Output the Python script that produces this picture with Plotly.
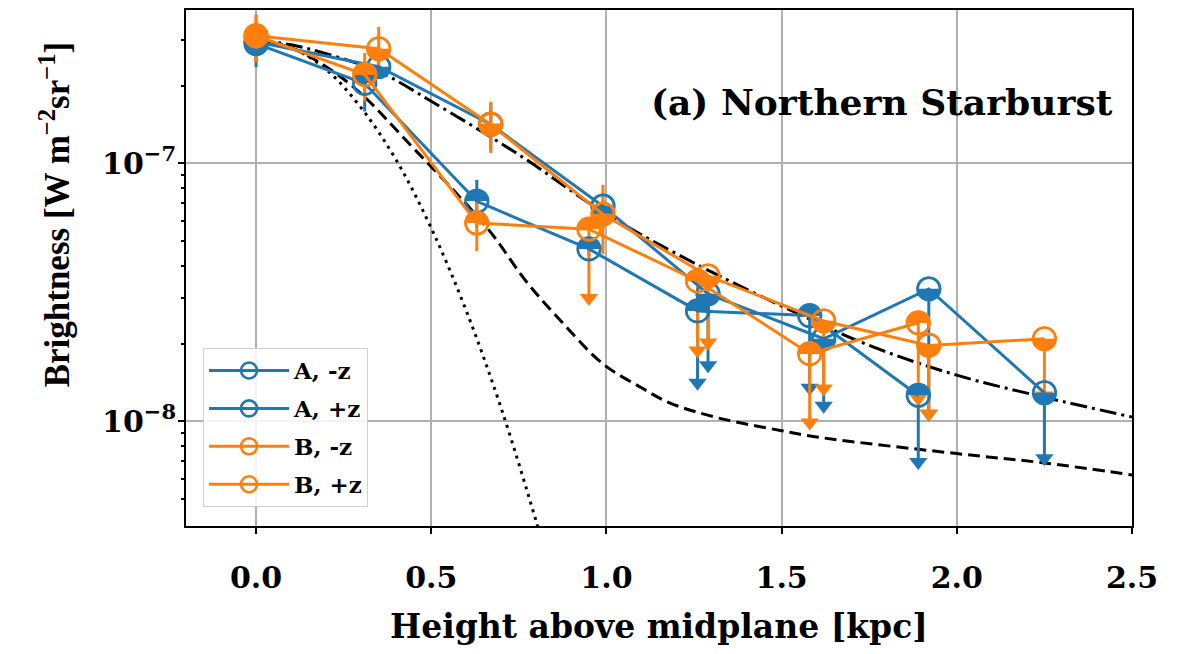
import plotly.graph_objects as go

# ---------------- data ----------------
# A, -z  (blue)
x_A_mz = [0.0, 0.31, 0.63, 0.95, 1.26, 1.58, 1.89]
y_A_mz = [2.91e-7, 2.04e-7, 7.13e-8, 4.66e-8, 2.68e-8, 2.57e-8, 1.26e-8]
err_A_mz = [0.55e-7, 0.45e-7, 1.5e-8, 0.3e-8, 0, 0, 0]
lim_A_mz = [None, None, None, None, 1.41e-8, 1.35e-8, 6.95e-9]

# A, +z  (blue)
x_A_pz = [0.0, 0.35, 0.67, 0.99, 1.29, 1.62, 1.92, 2.25]
y_A_pz = [2.96e-7, 2.37e-7, 1.415e-7, 6.82e-8, 3.12e-8, 2.09e-8, 3.26e-8, 1.29e-8]
err_A_pz = [0.45e-7, 0.2e-7, 0.3e-7, 0.4e-8, 0, 0, 0, 0]
lim_A_pz = [None, None, None, None, 1.65e-8, 1.15e-8, 1.07e-8, 7.2e-9]

# B, -z  (orange)
x_B_mz = [0.0, 0.31, 0.63, 0.95, 1.26, 1.58, 1.89]
y_B_mz = [3.12e-7, 2.21e-7, 5.87e-8, 5.56e-8, 3.50e-8, 1.83e-8, 2.41e-8]
err_B_mz = [0.65e-7, 0.47e-7, 1.3e-8, 0, 0, 0, 0]
lim_B_mz = [None, None, None, 3.01e-8, 1.88e-8, 9.9e-9, 1.23e-8]

# B, +z  (orange)
x_B_pz = [0.0, 0.35, 0.67, 0.99, 1.29, 1.62, 1.92, 2.25]
y_B_pz = [3.12e-7, 2.78e-7, 1.415e-7, 6.35e-8, 3.66e-8, 2.45e-8, 1.97e-8, 2.09e-8]
err_B_pz = [0.65e-7, 0.6e-7, 0.32e-7, 1.9e-8, 0, 0, 0, 0]
lim_B_pz = [None, None, None, None, 2.02e-8, 1.34e-8, 1.07e-8, 1.26e-8]

# model curves
x_dot = [0.0, 0.1, 0.2, 0.3, 0.4, 0.5, 0.6, 0.7, 0.8, 0.85]
y_dot = [3.01e-7, 2.81e-7, 2.31e-7, 1.64e-7, 1.03e-7, 5.61e-8, 2.68e-8, 1.12e-8, 4.07e-9, 2.35e-9]

x_dash = [0.0, 0.1, 0.2, 0.3, 0.43, 0.66, 0.77, 0.87, 0.99, 1.1, 1.18, 1.32, 1.5, 1.6, 2.0, 2.25, 2.5]
y_dash = [3.01e-7, 2.80e-7, 2.37e-7, 1.86e-7, 1.22e-7, 5.61e-8, 3.50e-8, 2.45e-8, 1.67e-8,
          1.35e-8, 1.18e-8, 1.03e-8, 9.2e-9, 8.7e-9, 7.5e-9, 6.9e-9, 6.2e-9]

x_dashdot = [0.0, 0.1, 0.2, 0.35, 0.5, 0.75, 1.0, 1.25, 1.5, 1.75, 2.0, 2.25, 2.5]
y_dashdot = [3.01e-7, 2.88e-7, 2.66e-7, 2.27e-7, 1.74e-7, 1.08e-7, 6.35e-8, 4.11e-8, 2.80e-8,
             1.97e-8, 1.51e-8, 1.24e-8, 1.04e-8]

x_ticks = [0.0, 0.5, 1.0, 1.5, 2.0, 2.5]
x_ticklabels = ["0.0", "0.5", "1.0", "1.5", "2.0", "2.5"]
y_ticks = [1e-8, 1e-7]
y_ticklabels = ["10<sup>−8</sup>", "10<sup>−7</sup>"]
y_minor = [5e-9, 6e-9, 7e-9, 8e-9, 9e-9, 2e-8, 3e-8, 4e-8, 5e-8, 6e-8, 7e-8, 8e-8, 9e-8,
           2e-7, 3e-7, 4e-7]

series_names = ["A, -z", "A, +z", "B, -z", "B, +z"]

# ---------------- styles ----------------
BLUE = "#1f77b4"
ORANGE = "#ff7f0e"
FONT = "DejaVu Serif"

# half-filled circle glyphs: upper half filled for -z, lower half filled for +z
series = [
    (series_names[0], x_A_mz, y_A_mz, err_A_mz, lim_A_mz, BLUE, "\u25d3"),
    (series_names[1], x_A_pz, y_A_pz, err_A_pz, lim_A_pz, BLUE, "\u25d2"),
    (series_names[2], x_B_mz, y_B_mz, err_B_mz, lim_B_mz, ORANGE, "\u25d3"),
    (series_names[3], x_B_pz, y_B_pz, err_B_pz, lim_B_pz, ORANGE, "\u25d2"),
]

fig = go.Figure()

# model curves
for xs, ys, dash in [(x_dot, y_dot, "3px,5px"),
                     (x_dash, y_dash, "12px,6px"),
                     (x_dashdot, y_dashdot, "17px,5px,3px,5px")]:
    fig.add_trace(go.Scatter(x=xs, y=ys, mode="lines",
                             line=dict(color="black", width=3, dash=dash, shape="spline"),
                             showlegend=False, hoverinfo="skip"))

# error bars (drawn under all markers)
for name, x, y, e, l, c, g in series:
    fig.add_trace(go.Scatter(x=x, y=y, mode="markers",
                             marker=dict(color="rgba(0,0,0,0)", size=1),
                             error_y=dict(type="data", array=e, symmetric=True, color=c,
                                          thickness=3, width=0),
                             showlegend=False, hoverinfo="skip"))

# upper limits: line + arrow head
for name, x, y, e, l, c, g in series:
    xs, ys, tx, ty = [], [], [], []
    for xi, yi, li in zip(x, y, l):
        if li is not None:
            xs += [xi, xi, None]
            ys += [yi, li, None]
            tx.append(xi)
            ty.append(li)
    fig.add_trace(go.Scatter(x=xs, y=ys, mode="lines", line=dict(color=c, width=3),
                             showlegend=False, hoverinfo="skip"))
    fig.add_trace(go.Scatter(x=tx, y=ty, mode="markers",
                             marker=dict(symbol="triangle-down", size=16, color=c),
                             showlegend=False, hoverinfo="skip"))

# data lines + half-filled markers
for name, x, y, e, l, c, g in series:
    fig.add_trace(go.Scatter(x=x, y=y, mode="lines+markers", name=name, legendgroup=name,
                             line=dict(color=c, width=3),
                             marker=dict(symbol="circle-open", size=22.5, color=c,
                                         line=dict(width=2.6, color=c))))
    fig.add_trace(go.Scatter(x=x, y=y, mode="text", text=[g] * len(x),
                             textposition="middle center",
                             textfont=dict(family="DejaVu Sans", size=32, color=c),
                             showlegend=False, hoverinfo="skip", legendgroup=name))

axis_common = dict(showline=True, linecolor="black", linewidth=2, mirror=True,
                   ticks="outside", ticklen=6, tickwidth=1.5, tickcolor="black",
                   showgrid=True, gridcolor="#b0b0b0", gridwidth=1.5, zeroline=False)

fig.update_layout(
    width=1173, height=646,
    margin=dict(l=178, r=49, t=0, b=128),
    paper_bgcolor="white", plot_bgcolor="white",
    font=dict(family=FONT, size=30, color="black", weight="bold"),
    xaxis=dict(range=[-0.2, 2.5], tickvals=x_ticks, ticktext=x_ticklabels,
               tickfont=dict(size=30), ticklabelstandoff=18, **axis_common),
    yaxis=dict(type="log", range=[-8.4056, -6.4056], tickvals=y_ticks, ticktext=y_ticklabels,
               tickfont=dict(size=30), ticklabelstandoff=-4,
               minor=dict(tickvals=y_minor, ticks="outside", ticklen=3, tickcolor="black",
                          showgrid=False),
               **axis_common),
    legend=dict(x=0.018, y=0.0367, xanchor="left", yanchor="bottom",
                bgcolor="rgba(255,255,255,0.85)", bordercolor="#d0d0d0", borderwidth=1,
                font=dict(size=23), itemwidth=80, traceorder="grouped", tracegroupgap=5),
    showlegend=True,
    annotations=[
        dict(text="(a) Northern Starburst", xref="paper", yref="paper", x=0.982, y=0.8224,
             xanchor="right", yanchor="middle", showarrow=False,
             font=dict(family=FONT, size=36, weight="bold")),
        dict(text="Height above midplane [kpc]", xref="paper", yref="paper", x=0.5, y=-0.195,
             xanchor="center", yanchor="middle", showarrow=False,
             font=dict(family=FONT, size=33, weight="bold")),
        dict(text="Brightness [W m<sup>−2</sup>sr<sup>−1</sup>]", xref="paper", yref="paper",
             x=-0.1385, y=0.604, xanchor="center", yanchor="middle", textangle=-90,
             showarrow=False, font=dict(family="Liberation Serif", size=35, weight="bold")),
    ],
)

fig.write_html("out.html")
